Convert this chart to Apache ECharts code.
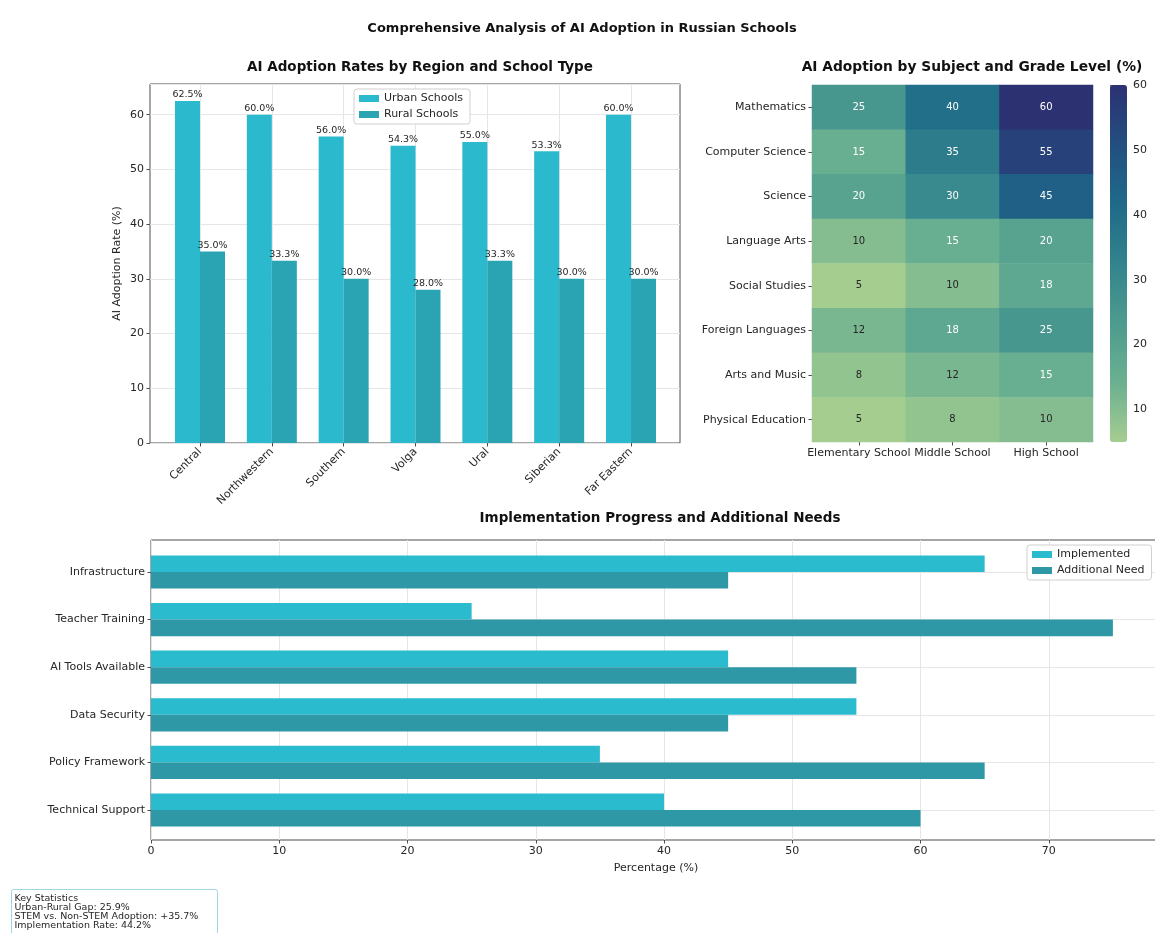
<!DOCTYPE html>
<html>
<head>
<meta charset="utf-8">
<title>AI Adoption in Russian Schools</title>
<script src="https://cdn.jsdelivr.net/npm/echarts@6/dist/echarts.min.js"></script>
<style>
  html, body { margin: 0; padding: 0; background: #ffffff; }
  #chart { width: 1155px; height: 933px; }
</style>
</head>
<body>
<div id="chart"></div>
<script>
// ---- Regional adoption (percent of schools) ----
const regions = ['Central', 'Northwestern', 'Southern', 'Volga', 'Ural', 'Siberian', 'Far Eastern'];
const urbanRates = [62.5, 60.0, 56.0, 54.3, 55.0, 53.3, 60.0];
const ruralRates = [35.0, 33.3, 30.0, 28.0, 33.3, 30.0, 30.0];

// ---- Adoption by subject and grade level (%) ----
const subjects = ['Mathematics', 'Computer Science', 'Science', 'Language Arts',
  'Social Studies', 'Foreign Languages', 'Arts and Music', 'Physical Education'];
const grades = ['Elementary School', 'Middle School', 'High School'];
const elementaryRates = [25, 15, 20, 10, 5, 12, 8, 5];
const middleRates = [40, 35, 30, 15, 10, 18, 12, 8];
const highRates = [60, 55, 45, 20, 18, 25, 15, 10];
const colorbarTicks = [10, 20, 30, 40, 50, 60];

// ---- Implementation progress ----
const areas = ['Infrastructure', 'Teacher Training', 'AI Tools Available',
  'Data Security', 'Policy Framework', 'Technical Support'];
const implemented = [65, 25, 45, 55, 35, 40];
const additionalNeed = [45, 75, 55, 45, 65, 60];

// ---- Summary box ----
const statLines = [
  'Key Statistics',
  'Urban-Rural Gap: 25.9%',
  'STEM vs. Non-STEM Adoption: +35.7%',
  'Implementation Rate: 44.2%'
];

const FONT = '"DejaVu Sans", sans-serif';
const TXT = '#262626';
const GRIDLINE = '#e6e6e6';
const FRAME = '#4d4d4d';
const TICK_FS = 11;

const heatData = [];
[elementaryRates, middleRates, highRates].forEach((col, c) => {
  col.forEach((v, r) => {
    heatData.push({
      value: [c, r, v],
      label: { color: v >= 14 ? '#ffffff' : TXT }
    });
  });
});

const regionMaxY = 65.6;   // headroom above the tallest bar
const areaMaxX = 78.75;

const chart = echarts.init(document.getElementById('chart'), null, { renderer: 'canvas' });

const tickLabel = (extra) => Object.assign({ fontFamily: FONT, fontSize: TICK_FS, color: TXT }, extra || {});
const gridBase = { containLabel: false, outerBoundsMode: 'none' };

const option = {
  backgroundColor: '#ffffff',
  animation: false,
  textStyle: { fontFamily: FONT },
  title: [
    { text: 'Comprehensive Analysis of AI Adoption in Russian Schools', left: 577, top: 17, textAlign: 'center',
      textStyle: { fontFamily: FONT, fontSize: 13, fontWeight: 'bold', color: '#111' } },
    { text: 'AI Adoption Rates by Region and School Type', left: 415, top: 55, textAlign: 'center',
      textStyle: { fontFamily: FONT, fontSize: 13.5, fontWeight: 'bold', color: '#111' } },
    { text: 'AI Adoption by Subject and Grade Level (%)', left: 967, top: 55, textAlign: 'center',
      textStyle: { fontFamily: FONT, fontSize: 13.8, fontWeight: 'bold', color: '#111' } },
    { text: 'Implementation Progress and Additional Needs', left: 655, top: 506, textAlign: 'center',
      textStyle: { fontFamily: FONT, fontSize: 13.5, fontWeight: 'bold', color: '#111' } }
  ],
  legend: [
    {
      data: ['Urban Schools', 'Rural Schools'], orient: 'vertical', left: 354, top: 89,
      icon: 'rect', itemWidth: 20, itemHeight: 7, itemGap: 5,
      padding: [4, 7, 4, 5], backgroundColor: '#ffffff', borderColor: '#d0d0d0', borderWidth: 1, borderRadius: 3,
      textStyle: { fontFamily: FONT, fontSize: 11, color: TXT }
    },
    {
      data: ['Implemented', 'Additional Need'], orient: 'vertical', left: 1027, top: 545,
      icon: 'rect', itemWidth: 20, itemHeight: 7, itemGap: 5,
      padding: [4, 7, 4, 5], backgroundColor: '#ffffff', borderColor: '#d0d0d0', borderWidth: 1, borderRadius: 3,
      textStyle: { fontFamily: FONT, fontSize: 11, color: TXT }
    }
  ],
  grid: [
    // 0: frame of the regional bar chart
    Object.assign({ left: 150, top: 84, width: 530, height: 359, show: true, borderColor: FRAME, borderWidth: 1 }, gridBase),
    // 1: category span of the regional bar chart
    Object.assign({ left: 200, top: 84, width: 431, height: 359 }, gridBase),
    // 2: heatmap cells
    Object.assign({ left: 812, top: 85, width: 281, height: 357 }, gridBase),
    // 3: colorbar axis
    Object.assign({ left: 1110, top: 85, width: 17, height: 357 }, gridBase),
    // 4: frame of the implementation chart (runs past the right edge)
    Object.assign({ left: 151, top: 540, width: 1010, height: 300, show: true, borderColor: FRAME, borderWidth: 1 }, gridBase),
    // 5: category span of the implementation chart
    Object.assign({ left: 151, top: 572, width: 1010, height: 238 }, gridBase)
  ],
  xAxis: [
    { gridIndex: 0, type: 'value', min: 0, max: 1, show: false },
    { gridIndex: 1, type: 'category', data: regions, boundaryGap: false,
      axisLine: { show: false },
      axisTick: { show: true, length: 3.5, lineStyle: { color: FRAME } },
      axisLabel: tickLabel({ rotate: 45, margin: 7, interval: 0 }),
      splitLine: { show: true, lineStyle: { color: GRIDLINE } } },
    { gridIndex: 2, type: 'category', data: grades,
      axisLine: { show: false },
      axisTick: { show: true, alignWithLabel: true, length: 3.5, lineStyle: { color: FRAME } },
      axisLabel: tickLabel({ margin: 6, interval: 0 }),
      splitLine: { show: false } },
    { gridIndex: 3, type: 'value', min: 0, max: 1, show: false },
    { gridIndex: 4, type: 'value', min: 0, max: areaMaxX, interval: 10,
      name: 'Percentage (%)', nameLocation: 'middle', nameGap: 23,
      nameTextStyle: { fontFamily: FONT, fontSize: 11, color: TXT },
      axisLine: { show: false },
      axisTick: { show: true, length: 3.5, lineStyle: { color: FRAME } },
      axisLabel: tickLabel({ margin: 6, showMaxLabel: false }),
      splitLine: { show: true, lineStyle: { color: GRIDLINE } } },
    { gridIndex: 5, type: 'value', min: 0, max: areaMaxX, show: false }
  ],
  yAxis: [
    { gridIndex: 0, type: 'value', min: 0, max: regionMaxY, interval: 10,
      name: 'AI Adoption Rate (%)', nameLocation: 'middle', nameGap: 27,
      nameTextStyle: { fontFamily: FONT, fontSize: 11, color: TXT },
      axisLine: { show: false },
      axisTick: { show: true, length: 3.5, lineStyle: { color: FRAME } },
      axisLabel: tickLabel({ margin: 6, showMaxLabel: false }),
      splitLine: { show: true, lineStyle: { color: GRIDLINE } } },
    { gridIndex: 1, type: 'value', min: 0, max: regionMaxY, show: false },
    { gridIndex: 2, type: 'category', data: subjects, inverse: true,
      axisLine: { show: false },
      axisTick: { show: true, alignWithLabel: true, length: 3.5, lineStyle: { color: FRAME } },
      axisLabel: tickLabel({ margin: 6, interval: 0 }),
      splitLine: { show: false } },
    { gridIndex: 3, type: 'value', min: 5, max: 60, position: 'right',
      axisLine: { show: false },
      axisTick: { show: true, length: 3.5, customValues: colorbarTicks, lineStyle: { color: FRAME } },
      axisLabel: tickLabel({ margin: 6, customValues: colorbarTicks }),
      splitLine: { show: false } },
    { gridIndex: 4, type: 'value', min: 0, max: 1, show: false },
    { gridIndex: 5, type: 'category', data: areas, inverse: true, boundaryGap: false,
      axisLine: { show: false },
      axisTick: { show: true, length: 3.5, lineStyle: { color: FRAME } },
      axisLabel: tickLabel({ margin: 6, interval: 0 }),
      splitLine: { show: true, lineStyle: { color: GRIDLINE } } }
  ],
  visualMap: {
    type: 'continuous', seriesIndex: 2, min: 5, max: 60,
    calculable: false, orient: 'vertical', left: 1110, top: 85,
    itemWidth: 17, itemHeight: 357, padding: 0, text: null,
    inRange: { color: ['#a5cd90', '#6bb090', '#4d9b8f', '#32838d', '#1f6a89', '#234f80', '#2c3172'] }
  },
  series: [
    { type: 'bar', name: 'Urban Schools', xAxisIndex: 1, yAxisIndex: 1, data: urbanRates,
      barWidth: 25, barGap: '0%', clip: false,
      itemStyle: { color: '#2bbacd' },
      label: { show: true, position: 'top', distance: 1, fontFamily: FONT, fontSize: 9.5, color: TXT,
        formatter: p => p.value.toFixed(1) + '%' } },
    { type: 'bar', name: 'Rural Schools', xAxisIndex: 1, yAxisIndex: 1, data: ruralRates,
      barWidth: 25, barGap: '0%', clip: false,
      itemStyle: { color: '#2aa3b3' },
      label: { show: true, position: 'top', distance: 1, fontFamily: FONT, fontSize: 9.5, color: TXT,
        formatter: p => p.value.toFixed(1) + '%' } },
    { type: 'heatmap', xAxisIndex: 2, yAxisIndex: 2, data: heatData,
      label: { show: true, fontFamily: FONT, fontSize: 10, formatter: p => String(p.value[2]) },
      itemStyle: { borderWidth: 0 }, emphasis: { disabled: true } },
    { type: 'bar', name: 'Implemented', xAxisIndex: 5, yAxisIndex: 5, data: implemented,
      barWidth: 16.6, barGap: '0%', clip: false,
      itemStyle: { color: '#2bbbcf' } },
    { type: 'bar', name: 'Additional Need', xAxisIndex: 5, yAxisIndex: 5, data: additionalNeed,
      barWidth: 16.6, barGap: '0%', clip: false,
      itemStyle: { color: '#2e98a6' } }
  ],
  graphic: [
    { type: 'group', left: 11, top: 889, children: [
      { type: 'rect', shape: { x: 0, y: 0, width: 206, height: 52, r: 2 },
        style: { fill: '#ffffff', stroke: '#9fd6e6', lineWidth: 1 } },
      { type: 'text', x: 3, y: 5,
        style: { text: statLines.join('\n'), fontFamily: FONT, fontSize: 9.5, lineHeight: 9, fill: TXT } }
    ] }
  ]
};

chart.setOption(option);
</script>
</body>
</html>
